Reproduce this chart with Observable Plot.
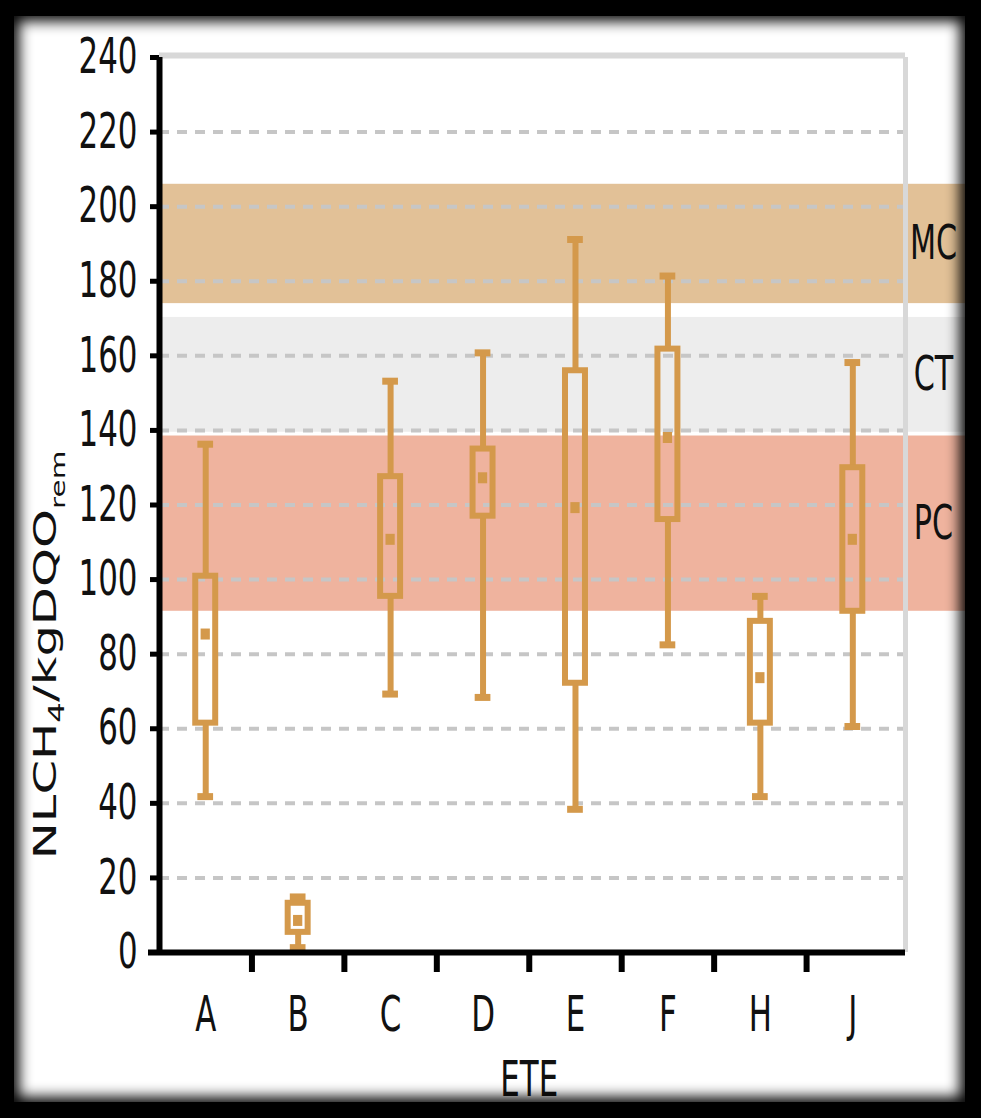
<!DOCTYPE html>
<html>
<head>
<meta charset="utf-8">
<script src="https://cdn.jsdelivr.net/npm/d3@7"></script>
<script src="https://cdn.jsdelivr.net/npm/@observablehq/plot@0.6"></script>
<style>
  html, body { margin: 0; padding: 0; background: #000; }
  #wrap { position: relative; width: 981px; height: 1118px; overflow: hidden; background: #000; }
  #wrap svg { position: absolute; left: 0; top: 0; }
  #shade { position: absolute; left: 14px; top: 16px; width: 951px; height: 1086px;
           box-shadow: 0 0 0 300px #000, inset 0 0 14px 5px #000; pointer-events: none; }
</style>
</head>
<body>
<div id="wrap"><div id="shade"></div></div>
<script>
// ---- data ----
const categories   = ["A", "B", "C", "D", "E", "F", "H", "J"];
const whiskerLow   = [41.8, 1.3, 69.3, 68.4, 38.4, 82.5, 41.8, 60.6];
const boxLow       = [61.5, 5.4, 95.5, 117.0, 72.2, 116.1, 61.5, 91.5];
const boxHigh      = [100.9, 13.2, 127.6, 135.0, 156.0, 161.8, 88.8, 130.0];
const whiskerHigh  = [136.3, 14.9, 153.2, 160.8, 191.2, 181.4, 95.5, 158.2];
const means        = [85.4, 8.6, 110.8, 127.3, 119.3, 138.1, 73.7, 110.8];

const bandNames  = ["MC", "CT", "PC"];
const bandLow    = [174, 139.5, 91.5];
const bandHigh   = [206, 170.3, 138.5];
const bandColors = ["#e2c197", "#ededed", "#efb39e"];

const yTicks    = [0, 20, 40, 60, 80, 100, 120, 140, 160, 180, 200, 220, 240];
const gridTicks = [20, 40, 60, 80, 100, 120, 140, 160, 180, 200, 220];
const xLabel = "ETE";

// ---- tables ----
const rows = categories.map((c, i) => ({
  cat: c, x: i + 0.5,
  lo: whiskerLow[i], q1: boxLow[i], q3: boxHigh[i], hi: whiskerHigh[i], mean: means[i]
}));
const bands = bandNames.map((n, i) => ({name: n, y1: bandLow[i], y2: bandHigh[i], color: bandColors[i], mid: (bandLow[i] + bandHigh[i]) / 2}));
const boundaries = categories.slice(1).map((c, i) => i + 1);

const xMax = 8.07;
const boxColor = "#d4994b";
const txtFont = "'DejaVu Sans Condensed', 'DejaVu Sans', sans-serif";

const svg = Plot.plot({
  width: 981,
  height: 1118,
  marginLeft: 159,
  marginRight: 76,
  marginTop: 57,
  marginBottom: 166,
  style: {background: "white", overflow: "visible", fontFamily: txtFont},
  x: {type: "linear", domain: [0, xMax], axis: null},
  y: {domain: [0, 240], axis: null},
  marks: [
    // reference bands
    Plot.rect(bands, {x1: () => 0, x2: () => xMax, y1: "y1", y2: "y2", fill: "color", insetRight: -70}),
    // dashed grid
    Plot.ruleY(gridTicks, {stroke: "#c6c6c6", strokeWidth: 4, strokeDasharray: "10,8"}),
    // gray frame top/right
    Plot.ruleY([240], {stroke: "#d8d8d8", strokeWidth: 6, dy: -2}),
    Plot.ruleX([xMax], {y1: 0, y2: 240, stroke: "#d8d8d8", strokeWidth: 5}),
    // whiskers
    Plot.ruleX(rows, {x: "x", y1: "lo", y2: "q1", stroke: boxColor, strokeWidth: 6}),
    Plot.ruleX(rows, {x: "x", y1: "q3", y2: "hi", stroke: boxColor, strokeWidth: 6}),
    // caps
    Plot.ruleY(rows, {x1: d => d.x - 0.085, x2: d => d.x + 0.085, y: "hi", stroke: boxColor, strokeWidth: 7}),
    Plot.ruleY(rows, {x1: d => d.x - 0.085, x2: d => d.x + 0.085, y: "lo", stroke: boxColor, strokeWidth: 7}),
    // boxes
    Plot.rect(rows, {x1: d => d.x - 0.108, x2: d => d.x + 0.108, y1: "q1", y2: "q3", fill: "none", stroke: boxColor, strokeWidth: 6}),
    // means
    Plot.ruleY(rows, {x1: d => d.x - 0.05, x2: d => d.x + 0.05, y: "mean", stroke: boxColor, strokeWidth: 11}),
    // axes lines
    Plot.ruleX([0], {y1: 0, y2: 240, stroke: "#000", strokeWidth: 6}),
    Plot.ruleY([0], {stroke: "#000", strokeWidth: 6, insetLeft: -11}),
    // y ticks
    Plot.ruleY(yTicks, {x1: () => 0, x2: () => 0, insetLeft: -9, stroke: "#000", strokeWidth: 5}),
    // x ticks between categories
    Plot.ruleX(boundaries, {y1: () => 0, y2: () => 0, insetBottom: -20, stroke: "#000", strokeWidth: 6}),
    // y tick labels
    Plot.text(yTicks, {x: () => 0, y: d => d, text: d => String(d), textAnchor: "end", dx: -22, fontSize: 49, fontFamily: txtFont, fill: "#111"}),
    // x labels
    Plot.text(rows, {x: "x", y: () => 0, text: "cat", dy: 63, fontSize: 49, fontFamily: txtFont, fill: "#111"}),
    Plot.text([xLabel], {x: () => categories.length / 2, y: () => 0, text: d => d, dy: 128, fontSize: 49, fontFamily: txtFont, fill: "#111"}),
    // band labels
    Plot.text(bands, {x: () => xMax, y: "mid", text: "name", dx: 28, fontSize: 48, fontFamily: txtFont, fill: "#111"})
  ]
});

document.getElementById("wrap").insertBefore(svg, document.getElementById("shade"));

// condense the horizontal texts like the reference's narrow lettering
svg.querySelectorAll("text").forEach(t => {
  const len = t.getComputedTextLength();
  if (len > 0) {
    t.setAttribute("textLength", (len * 0.7).toFixed(1));
    t.setAttribute("lengthAdjust", "spacingAndGlyphs");
  }
});

// rotated y-axis label with subscripts
const lab = d3.select(svg).append("text")
  .attr("transform", "translate(56,655) rotate(-90) scale(1.55,1)")
  .attr("text-anchor", "middle")
  .attr("font-family", "'DejaVu Sans', sans-serif")
  .attr("font-size", 32)
  .attr("fill", "#111");
lab.append("tspan").text("NLCH");
lab.append("tspan").attr("font-size", 21).attr("dy", 8).text("4");
lab.append("tspan").attr("font-size", 32).attr("dy", -8).text("/kgDQO");
lab.append("tspan").attr("font-size", 19).attr("dy", 9).text("rem");
</script>
</body>
</html>
